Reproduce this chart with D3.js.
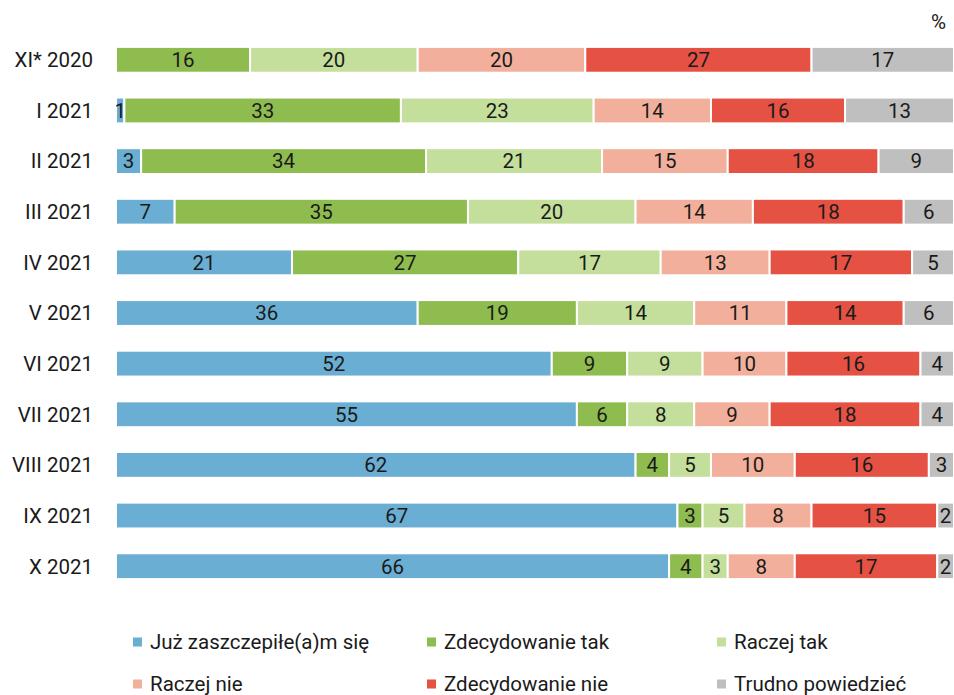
<!DOCTYPE html>
<html><head><meta charset="utf-8">
<script src="https://cdn.jsdelivr.net/npm/d3@7"></script>
<style>body{margin:0;background:#fff}svg{display:block;font-family:Roboto,"Noto Sans",sans-serif}</style>
</head><body><svg id="c" width="954" height="695"></svg>
<script>
const categories = ["XI* 2020","I 2021","II 2021","III 2021","IV 2021","V 2021","VI 2021","VII 2021","VIII 2021","IX 2021","X 2021"];
const seriesNames = ["Już zaszczepiłe(a)m się","Zdecydowanie tak","Raczej tak","Raczej nie","Zdecydowanie nie","Trudno powiedzieć"];
const juz = [0,1,3,7,21,36,52,55,62,67,66];
const zdecTak = [16,33,34,35,27,19,9,6,4,3,4];
const raczejTak = [20,23,21,20,17,14,9,8,5,5,3];
const raczejNie = [20,14,15,14,13,11,10,9,10,8,8];
const zdecNie = [27,16,18,18,17,14,16,18,16,15,17];
const trudno = [17,13,9,6,5,6,4,4,3,2,2];
const colors = ["#6aaed3","#8fbc4f","#c4df9b","#f2b09c","#e55244","#bfbfbf"];

const series = [juz,zdecTak,raczejTak,raczejNie,zdecNie,trudno];
const svg = d3.select("#c");
const x = d3.scaleLinear().domain([0,100]).range([116,954]);
const y = d3.scaleBand().domain(categories).range([34.5,591.5]).paddingInner(0.49).paddingOuter(0.245);
const FS = 20.5;

categories.forEach((cat,i)=>{
  let acc = 0;
  series.forEach((s,k)=>{
    const v = s[i];
    if(v<=0){return;}
    const x0 = x(acc), x1 = x(acc+v);
    acc += v;
    svg.append("rect").attr("x",x0).attr("y",y(cat)).attr("width",x1-x0).attr("height",y.bandwidth())
      .attr("fill",colors[k]).attr("stroke","#fff").attr("stroke-width",2);
    svg.append("text").attr("x",(x0+x1)/2).attr("y",y(cat)+y.bandwidth()/2).attr("dy","0.36em")
      .attr("text-anchor","middle").attr("font-size",FS).attr("fill","#1a1a1a").text(v);
  });
  svg.append("text").attr("x",93).attr("y",y(cat)+y.bandwidth()/2).attr("dy","0.36em")
    .attr("text-anchor","end").attr("font-size",FS).attr("fill","#1a1a1a").text(cat);
});

svg.append("text").attr("x",946).attr("y",22).attr("dy","0.36em").attr("text-anchor","end")
  .attr("font-size",FS).attr("fill","#1a1a1a").text("%");

const legX = [133,427,717], legY = [642,684];
seriesNames.forEach((n,k)=>{
  const lx = legX[k%3], ly = legY[Math.floor(k/3)];
  svg.append("rect").attr("x",lx).attr("y",ly-4.5).attr("width",9).attr("height",9).attr("fill",colors[k]);
  svg.append("text").attr("x",lx+17).attr("y",ly).attr("dy","0.36em").attr("font-size",FS).attr("fill","#1a1a1a").text(n);
});
</script></body></html>
